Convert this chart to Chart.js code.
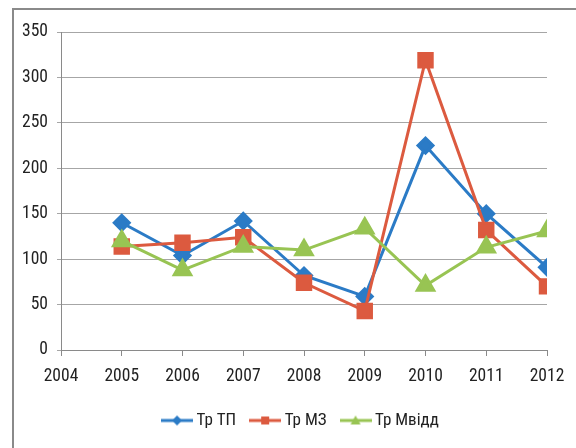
<!DOCTYPE html>
<html>
<head>
<meta charset="utf-8">
<script src="https://cdn.jsdelivr.net/npm/chart.js@4.4.1/dist/chart.umd.min.js"></script>
<style>
  html, body { margin: 0; padding: 0; background: #fff; overflow: hidden; }
  #frame { position: absolute; left: 12px; top: 8px; width: 700px; height: 600px;
           border-left: 2px solid #8a8a8a; border-top: 2px solid #8a8a8a; }
  #wrap { position: absolute; left: 0; top: 0; width: 576px; height: 448px; }
</style>
</head>
<body>
<div id="frame"></div>
<div id="wrap"><canvas id="myChart" width="576" height="448"></canvas></div>
<script>
// дані графіка
const years = [2005, 2006, 2007, 2008, 2009, 2010, 2011, 2012];
const trTP = [140, 104, 142, 82, 59, 225, 150, 91];
const trMZ = [114, 118, 124, 74, 43, 319, 132, 70];
const trMvidd = [120, 88, 114, 110, 134, 71, 113, 131];
const seriesNames = ["Тр ТП", "Тр МЗ", "Тр Мвідд"];
const xMin = 2004, xMax = 2012;
const yMin = 0, yMax = 350, yStep = 50;

const FONT = "'Liberation Sans Narrow', 'Roboto Condensed', 'DejaVu Sans Condensed', sans-serif";
const BLUE = "#2b7bc6";
const RED = "#dc5a3f";
const GREEN = "#98c453";

function toPoints(values) {
  return years.map(function (y, i) { return { x: y, y: values[i] }; });
}

// маленька іконка легенди: лінія + маркер
function legendIcon(color, shape) {
  const c = document.createElement("canvas");
  c.width = 32; c.height = 14;
  const g = c.getContext("2d");
  g.strokeStyle = color; g.fillStyle = color; g.lineWidth = 3;
  g.beginPath(); g.moveTo(0, 7); g.lineTo(32, 7); g.stroke();
  g.beginPath();
  if (shape === "diamond") {
    g.moveTo(16, 2); g.lineTo(21, 7); g.lineTo(16, 12); g.lineTo(11, 7);
  } else if (shape === "square") {
    g.rect(12, 3, 8, 8);
  } else {
    g.moveTo(16, 2); g.lineTo(21, 11); g.lineTo(11, 11);
  }
  g.closePath(); g.fill();
  return c;
}
const icons = [legendIcon(BLUE, "diamond"), legendIcon(RED, "square"), legendIcon(GREEN, "triangle")];

// легенда в оригіналі трохи правіше центру області
const shiftLegend = {
  id: "shiftLegend",
  afterLayout: function (chart) {
    if (chart.legend) {
      chart.legend.left += 29;
      chart.legend.right += 29;
    }
  },
};

document.addEventListener("DOMContentLoaded", function () {
  const ctx = document.getElementById("myChart").getContext("2d");
  new Chart(ctx, {
    type: "line",
    data: {
      datasets: [
        {
          label: seriesNames[0],
          data: toPoints(trTP),
          borderColor: BLUE,
          backgroundColor: BLUE,
          borderWidth: 3,
          pointStyle: "rectRot",
          pointRadius: 7.5,
          order: 3,
        },
        {
          label: seriesNames[1],
          data: toPoints(trMZ),
          borderColor: RED,
          backgroundColor: RED,
          borderWidth: 3,
          pointStyle: "rect",
          pointRadius: 9.5,
          order: 2,
        },
        {
          label: seriesNames[2],
          data: toPoints(trMvidd),
          borderColor: GREEN,
          backgroundColor: GREEN,
          borderWidth: 3,
          pointStyle: "triangle",
          pointRadius: 9.5,
          order: 1,
        },
      ],
    },
    plugins: [shiftLegend],
    options: {
      responsive: false,
      animation: false,
      layout: { padding: { left: 0, right: 29, top: 32, bottom: 9 } },
      plugins: {
        tooltip: { enabled: false },
        legend: {
          position: "bottom",
          labels: {
            usePointStyle: true,
            pointStyleWidth: 22,
            padding: 18,
            color: "#222",
            font: { family: FONT, size: 17 },
            sort: function (a, b) { return a.datasetIndex - b.datasetIndex; },
            generateLabels: function (chart) {
              const items = Chart.defaults.plugins.legend.labels.generateLabels(chart);
              items.forEach(function (it) { it.pointStyle = icons[it.datasetIndex]; });
              return items;
            },
          },
        },
      },
      scales: {
        x: {
          type: "linear",
          min: xMin,
          max: xMax,
          afterFit: function (s) { s.height = 44; },
          ticks: {
            stepSize: 1,
            padding: 10,
            color: "#222",
            font: { family: FONT, size: 17.5 },
            callback: function (v) { return String(v); },
          },
          grid: { drawOnChartArea: false, drawTicks: true, tickLength: 6, color: "#8a8a8a" },
          border: { color: "#8a8a8a", width: 1 },
        },
        y: {
          min: yMin,
          max: yMax,
          afterFit: function (s) { s.width = 61; },
          ticks: {
            stepSize: yStep,
            padding: 9,
            color: "#222",
            font: { family: FONT, size: 17.5 },
          },
          grid: { color: "#a6a6a6", tickLength: 4 },
          border: { color: "#8a8a8a", width: 1 },
        },
      },
    },
  });
});
</script>
</body>
</html>
